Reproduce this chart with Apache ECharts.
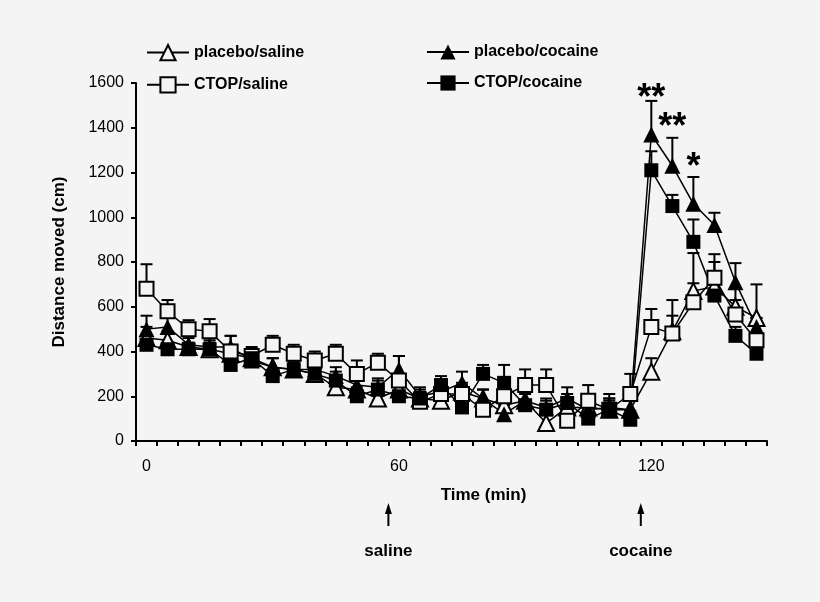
<!DOCTYPE html>
<html>
<head>
<meta charset="utf-8">
<script src="https://cdn.jsdelivr.net/npm/echarts@6/dist/echarts.min.js"></script>
<style>
html, body { margin: 0; padding: 0; background: #f4f4f4; }
#chart { width: 820px; height: 602px; }
</style>
</head>
<body>
<div id="chart"></div>
<script>
// time bins (min)
var times = ['0','5','10','15','20','25','30','35','40','45','50','55','60','65','70',
             '75','80','85','90','95','100','105','110','115','120','125','130','135','140','145'];

var placeboSaline    = [460,450,420,410,390,370,330,320,300,240,230,190,230,190,180,220,190,160,180,80,150,150,140,140,310,490,670,690,600,550];
var placeboSalineErr = [50,40,40,40,40,40,40,40,40,40,40,40,40,40,40,40,40,40,40,40,40,40,40,40,60,70,170,60,80,150];

var placeboCocaine    = [500,510,430,420,420,360,330,320,320,290,250,240,320,200,220,260,190,120,180,150,190,140,150,140,1370,1230,1060,965,710,510];
var placeboCocaineErr = [60,40,40,40,50,40,40,40,40,40,40,40,60,40,40,50,40,40,40,40,50,40,40,40,150,125,120,55,85,40];

var ctopSaline    = [680,580,500,490,400,380,430,390,360,390,300,350,270,175,210,210,140,200,250,250,90,180,140,210,510,480,620,730,565,450];
var ctopSalineErr = [110,50,40,55,70,40,40,40,40,40,60,40,110,40,40,40,40,40,70,70,60,70,70,90,80,150,85,105,65,100];

var ctopCocaine    = [430,410,410,410,340,370,290,320,300,270,200,230,200,190,250,150,300,260,160,140,170,100,140,95,1210,1050,890,650,470,390];
var ctopCocaineErr = [40,30,30,30,40,30,30,30,30,40,40,40,40,30,40,40,40,80,50,40,40,40,50,40,85,50,100,150,40,40];

// significance marks
var sigTimes  = ['120','125','130'];
var sigMarks  = ['**','**','*'];
var sigLevels = [1530,1400,1220];

// injections
var injTimes  = ['60','120'];
var injLabels = ['saline','cocaine'];

var bg = '#f4f4f4';
var font = 'Liberation Sans, Arial, sans-serif';

var dom = document.getElementById('chart');
var myChart = echarts.init(dom, null, { renderer: 'canvas' });

function errData(vals, errs) {
    var d = [];
    for (var i = 0; i < vals.length; i++) {
        d.push([i, vals[i], vals[i] + errs[i]]);
    }
    return d;
}

function renderErr(params, api) {
    var a = api.coord([api.value(0), api.value(1)]);
    var b = api.coord([api.value(0), api.value(2)]);
    var cap = 6;
    return {
        type: 'group',
        children: [
            { type: 'line', shape: { x1: a[0], y1: a[1], x2: b[0], y2: b[1] }, style: { stroke: '#000', lineWidth: 2 } },
            { type: 'line', shape: { x1: b[0] - cap, y1: b[1], x2: b[0] + cap, y2: b[1] }, style: { stroke: '#000', lineWidth: 2 } }
        ]
    };
}

function lineSeries(name, vals, symbol, filled) {
    return {
        name: name,
        type: 'line',
        data: vals,
        symbol: symbol,
        symbolSize: symbol === 'triangle' ? 16 : 14,
        showAllSymbol: true,
        lineStyle: { color: '#000', width: 1.5 },
        itemStyle: { color: filled ? '#000' : bg, borderColor: '#000', borderWidth: filled ? 0 : 2 },
        z: 3
    };
}

function errSeries(vals, errs) {
    return {
        type: 'custom',
        renderItem: renderErr,
        data: errData(vals, errs),
        z: 2,
        silent: true
    };
}

var legendText = { color: '#000', fontSize: 16, fontWeight: 'bold', fontFamily: font };

var option = {
    backgroundColor: bg,
    animation: false,
    textStyle: { fontFamily: font },
    grid: { left: 136, right: 53, top: 83, bottom: 161 },
    legend: [
        {
            data: ['placebo/saline', 'CTOP/saline'],
            orient: 'vertical', left: 141, top: 39, itemGap: 15,
            itemWidth: 42, itemHeight: 19, textStyle: legendText,
            lineStyle: { width: 2 }
        },
        {
            data: ['placebo/cocaine', 'CTOP/cocaine'],
            orient: 'vertical', left: 421, top: 39, itemGap: 15,
            itemWidth: 42, itemHeight: 19, textStyle: legendText,
            lineStyle: { width: 2 }
        }
    ],
    xAxis: {
        type: 'category',
        data: times,
        boundaryGap: true,
        name: 'Time (min)',
        nameLocation: 'middle',
        nameGap: 46,
        nameTextStyle: { color: '#000', fontSize: 17, fontWeight: 'bold', padding: [0, 0, 0, 64] },
        axisLine: { lineStyle: { color: '#000', width: 2 } },
        axisTick: { show: true, interval: 0, length: 5, lineStyle: { color: '#000', width: 2 } },
        axisLabel: {
            interval: function (idx, val) { return Number(val) % 60 === 0; },
            color: '#000', fontSize: 16, margin: 18
        },
        splitLine: { show: false }
    },
    yAxis: {
        type: 'value',
        min: 0, max: 1600, interval: 200,
        name: 'Distance moved (cm)',
        nameLocation: 'middle',
        nameGap: 68,
        nameTextStyle: { color: '#000', fontSize: 17, fontWeight: 'bold' },
        axisLine: { show: true, lineStyle: { color: '#000', width: 2 } },
        axisTick: { show: true, length: 5, lineStyle: { color: '#000', width: 2 } },
        axisLabel: { color: '#000', fontSize: 16, margin: 12, formatter: function (v) { return String(v); } },
        splitLine: { show: false }
    },
    series: [
        errSeries(placeboSaline, placeboSalineErr),
        errSeries(placeboCocaine, placeboCocaineErr),
        errSeries(ctopSaline, ctopSalineErr),
        errSeries(ctopCocaine, ctopCocaineErr),
        lineSeries('placebo/saline', placeboSaline, 'triangle', false),
        lineSeries('placebo/cocaine', placeboCocaine, 'triangle', true),
        lineSeries('CTOP/saline', ctopSaline, 'rect', false),
        lineSeries('CTOP/cocaine', ctopCocaine, 'rect', true),
        {
            type: 'scatter',
            symbolSize: 0,
            silent: true,
            z: 5,
            itemStyle: { color: '#000', opacity: 1 },
            data: sigTimes.map(function (t, i) { return [t, sigLevels[i], sigMarks[i]]; }),
            label: {
                show: true,
                position: 'inside',
                opacity: 1,
                formatter: function (p) { return p.value[2]; },
                color: '#000', textBorderWidth: 0, fontSize: 36, fontWeight: 'bold', fontFamily: font
            }
        }
    ]
};
myChart.setOption(option);

// injection arrows under the time axis, at the start of each injection bin
var graphics = [];
var band = myChart.convertToPixel({ xAxisIndex: 0 }, times[1]) - myChart.convertToPixel({ xAxisIndex: 0 }, times[0]);
var axisY = myChart.convertToPixel({ yAxisIndex: 0 }, 0);
for (var k = 0; k < injTimes.length; k++) {
    var px = myChart.convertToPixel({ xAxisIndex: 0 }, injTimes[k]) - band / 2;
    graphics.push({
        type: 'line',
        shape: { x1: px, y1: axisY + 68, x2: px, y2: axisY + 85 },
        style: { stroke: '#000', lineWidth: 2 }
    });
    graphics.push({
        type: 'polygon',
        shape: { points: [[px, axisY + 62], [px - 3.5, axisY + 73], [px + 3.5, axisY + 73]] },
        style: { fill: '#000' }
    });
    graphics.push({
        type: 'text',
        x: px, y: axisY + 110,
        style: {
            text: injLabels[k], fill: '#000', fontSize: 17, fontWeight: 'bold',
            fontFamily: font, align: 'center', verticalAlign: 'middle'
        }
    });
}
myChart.setOption({ graphic: graphics });
window.addEventListener('resize', myChart.resize);
</script>
</body>
</html>
